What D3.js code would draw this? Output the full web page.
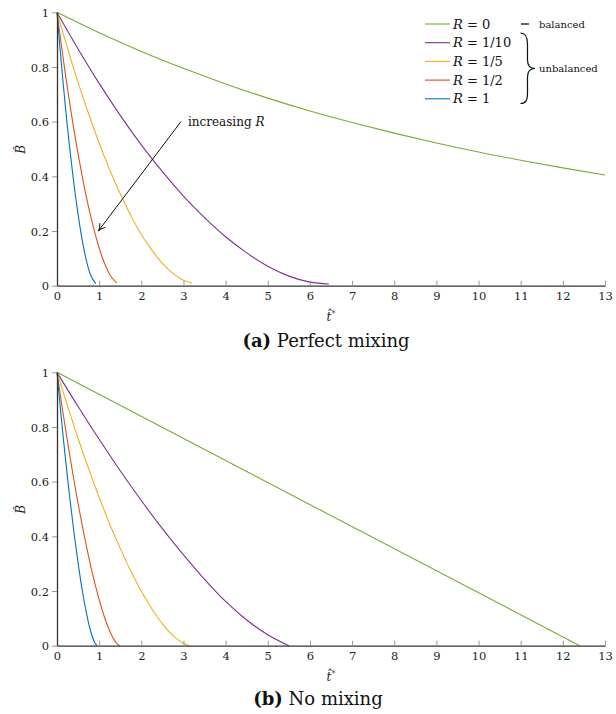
<!DOCTYPE html>
<html>
<head>
<meta charset="utf-8">
<script src="https://cdn.jsdelivr.net/npm/d3@7"></script>
<style>
  body { margin: 0; background: #fff; }
  svg { display: block; font-family: "DejaVu Serif", serif; }
</style>
</head>
<body>
<div id="chart"></div>
<script>
// series order: R = 0, 1/10, 1/5, 1/2, 1
var rLabels = ['0', '1/10', '1/5', '1/2', '1'];
var rColors = ['#77AC30', '#7E2F8E', '#EDB120', '#D95319', '#0072BD'];
var xTicks = [0, 1, 2, 3, 4, 5, 6, 7, 8, 9, 10, 11, 12, 13];
var yTicks = [0, 0.2, 0.4, 0.6, 0.8, 1];

// (a) perfect mixing, [t*, B]
var mixR0 = [[0, 1], [1, 0.925], [2, 0.857], [3, 0.795], [4, 0.738], [5, 0.686], [6, 0.639], [7, 0.597],
  [8, 0.558], [9, 0.522], [10, 0.489], [11, 0.459], [12, 0.431], [13, 0.405]];
var mixR10 = [[0, 1], [0.5, 0.866], [1, 0.74], [1.5, 0.623], [2, 0.515], [2.5, 0.417], [3, 0.328],
  [3.5, 0.249], [4, 0.179], [4.5, 0.12], [5, 0.071], [5.5, 0.035], [6, 0.013], [6.45, 0.006]];
var mixR5 = [[0, 1], [0.25, 0.868], [0.5, 0.743], [0.75, 0.629], [1, 0.522], [1.25, 0.424], [1.5, 0.336],
  [1.75, 0.257], [2, 0.187], [2.25, 0.13], [2.5, 0.082], [2.75, 0.045], [3, 0.02], [3.2, 0.01]];
var mixR2 = [[0, 1], [0.1, 0.883], [0.2, 0.773], [0.3, 0.669], [0.4, 0.572], [0.5, 0.482], [0.6, 0.399],
  [0.7, 0.322], [0.8, 0.254], [0.9, 0.192], [1, 0.138], [1.1, 0.093], [1.2, 0.056], [1.3, 0.03],
  [1.42, 0.01]];
var mixR1 = [[0, 1], [0.05, 0.907], [0.1, 0.819], [0.15, 0.734], [0.2, 0.653], [0.25, 0.577], [0.3, 0.505],
  [0.4, 0.374], [0.5, 0.261], [0.6, 0.165], [0.7, 0.09], [0.8, 0.038], [0.92, 0.008]];

// (b) no mixing, [t*, B]
var noMixR0 = [[0, 1], [12.4, 0]];
var noMixR10 = [[0, 1], [0.5, 0.875], [1, 0.755], [1.5, 0.64], [2, 0.531], [2.5, 0.428], [3, 0.332],
  [3.5, 0.243], [4, 0.162], [4.5, 0.094], [5, 0.04], [5.5, 0]];
var noMixR5 = [[0, 1], [0.25, 0.877], [0.5, 0.758], [0.75, 0.647], [1, 0.543], [1.25, 0.445], [1.5, 0.356],
  [1.75, 0.273], [2, 0.199], [2.25, 0.135], [2.5, 0.08], [2.75, 0.037], [3, 0.009], [3.15, 0]];
var noMixR2 = [[0, 1], [0.1, 0.895], [0.2, 0.794], [0.3, 0.698], [0.4, 0.607], [0.5, 0.52], [0.6, 0.438],
  [0.7, 0.362], [0.8, 0.292], [0.9, 0.227], [1, 0.169], [1.1, 0.117], [1.2, 0.073], [1.3, 0.037],
  [1.4, 0.011], [1.49, 0]];
var noMixR1 = [[0, 1], [0.05, 0.917], [0.1, 0.837], [0.15, 0.759], [0.2, 0.685], [0.25, 0.613], [0.3, 0.545],
  [0.4, 0.417], [0.5, 0.303], [0.6, 0.202], [0.7, 0.118], [0.8, 0.052], [0.9, 0.01], [0.95, 0]];

var W = 616, H = 714;
var svg = d3.select('#chart').append('svg')
  .attr('width', W).attr('height', H);

var x = d3.scaleLinear().domain([0, 13]).range([57, 605]);

function drawPanel(top, series, tag, caption, capX, capY) {
  var y = d3.scaleLinear().domain([0, 1]).range([top + 273.4, top]);
  var g = svg.append('g');

  // curves
  var line = d3.line()
    .x(function(d) { return x(d[0]); })
    .y(function(d) { return y(d[1]); })
    .curve(d3.curveMonotoneX);

  series.forEach(function(s, i) {
    g.append('path')
      .datum(s)
      .attr('d', line)
      .attr('fill', 'none')
      .attr('stroke', rColors[i])
      .attr('stroke-width', 1.1);
  });

  // x axis, ticks pointing inward
  var xa = g.append('g')
    .attr('transform', 'translate(0,' + y(0) + ')')
    .call(d3.axisBottom(x).tickValues(xTicks).tickSize(-5).tickSizeOuter(0).tickPadding(6));
  // y axis, ticks outside
  var ya = g.append('g')
    .attr('transform', 'translate(' + x(0) + ',0)')
    .call(d3.axisLeft(y).tickValues(yTicks).tickSize(5).tickSizeOuter(0).tickPadding(3)
      .tickFormat(function(d) { return String(+d.toFixed(1)); }));

  [xa, ya].forEach(function(a) {
    a.select('.domain').attr('stroke', '#333').attr('stroke-width', 1.3);
    a.selectAll('.tick line').attr('stroke', '#999').attr('stroke-width', 1);
    a.selectAll('.tick text').attr('font-family', '"DejaVu Serif", serif')
      .attr('font-size', '11.5px').attr('fill', '#222');
  });
  ya.selectAll('.tick text').attr('dy', '0.35em');

  // y label: B-hat, rotated
  g.append('text')
    .attr('transform', 'translate(25,' + (top + 137) + ') rotate(-90)')
    .attr('text-anchor', 'middle').attr('font-style', 'italic')
    .attr('font-size', '12px').attr('fill', '#222').text('B\u0302');

  // x label: t-hat star
  var lx = (x(0) + x(13)) / 2, ly = top + 309;
  var tl = g.append('text').attr('x', lx).attr('y', ly).attr('text-anchor', 'middle')
    .attr('font-size', '12px').attr('fill', '#222');
  tl.append('tspan').attr('font-style', 'italic').text('t\u0302');
  tl.append('tspan').attr('dy', -5).attr('font-size', '8px').text('*');

  // caption
  var cap = g.append('text').attr('x', capX).attr('y', capY)
    .attr('text-anchor', 'middle').attr('font-size', '18px').attr('fill', '#111');
  cap.append('tspan').attr('font-weight', 'bold').text(tag);
  cap.append('tspan').text(' ' + caption);

  return { y: y, g: g };
}

var pa = drawPanel(12.3, [mixR0, mixR10, mixR5, mixR2, mixR1], '(a)', 'Perfect mixing', 326, 347);
var pb = drawPanel(372.3, [noMixR0, noMixR10, noMixR5, noMixR2, noMixR1], '(b)', 'No mixing', 318, 705);

// legend (top panel)
var legend = svg.append('g');
rLabels.forEach(function(lab, i) {
  var ly = 24 + i * 18.7;
  legend.append('line')
    .attr('x1', 425).attr('x2', 450).attr('y1', ly).attr('y2', ly)
    .attr('stroke', rColors[i]).attr('stroke-width', 1.1);
  var t = legend.append('text').attr('x', 453).attr('y', ly + 4.5)
    .attr('font-size', '13px').attr('fill', '#111');
  t.append('tspan').attr('font-style', 'italic').text('R');
  t.append('tspan').text(' = ' + lab);
});

// balanced / unbalanced grouping
legend.append('line')
  .attr('x1', 521).attr('x2', 529).attr('y1', 24).attr('y2', 24)
  .attr('stroke', '#111').attr('stroke-width', 1.3);
legend.append('text').attr('x', 539).attr('y', 27.5)
  .attr('font-size', '10px').attr('fill', '#111').text('balanced');
legend.append('path')
  .attr('d', 'M520.5,33 C526,33 527.5,37 527.5,44 L527.5,60 C527.5,66 530,68.5 535,68.5 ' +
    'C530,68.5 527.5,71 527.5,77 L527.5,93 C527.5,100 526,103.5 520.5,103.5')
  .attr('fill', 'none').attr('stroke', '#111').attr('stroke-width', 1.2);
legend.append('text').attr('x', 539).attr('y', 72)
  .attr('font-size', '10px').attr('fill', '#111').text('unbalanced');

// "increasing R" annotation arrow
var ax0 = x(2.94), ay0 = pa.y(0.6), ax1 = x(0.98), ay1 = pa.y(0.2);
svg.append('line')
  .attr('x1', ax0).attr('y1', ay0).attr('x2', ax1).attr('y2', ay1)
  .attr('stroke', '#111').attr('stroke-width', 1);
var ang = Math.atan2(ay1 - ay0, ax1 - ax0);
var hl = 8, hw = 0.45;
svg.append('path')
  .attr('d', 'M' + (ax1 - hl * Math.cos(ang - hw)) + ',' + (ay1 - hl * Math.sin(ang - hw)) +
    ' Q' + (ax1 - 3 * Math.cos(ang)) + ',' + (ay1 - 3 * Math.sin(ang)) + ' ' + ax1 + ',' + ay1 +
    ' Q' + (ax1 - 3 * Math.cos(ang)) + ',' + (ay1 - 3 * Math.sin(ang)) + ' ' +
    (ax1 - hl * Math.cos(ang + hw)) + ',' + (ay1 - hl * Math.sin(ang + hw)))
  .attr('fill', 'none').attr('stroke', '#111').attr('stroke-width', 1);
var at = svg.append('text').attr('x', ax0 + 7).attr('y', ay0 + 4.5)
  .attr('font-size', '12px').attr('fill', '#111');
at.append('tspan').text('increasing ');
at.append('tspan').attr('font-style', 'italic').text('R');
</script>
</body>
</html>
